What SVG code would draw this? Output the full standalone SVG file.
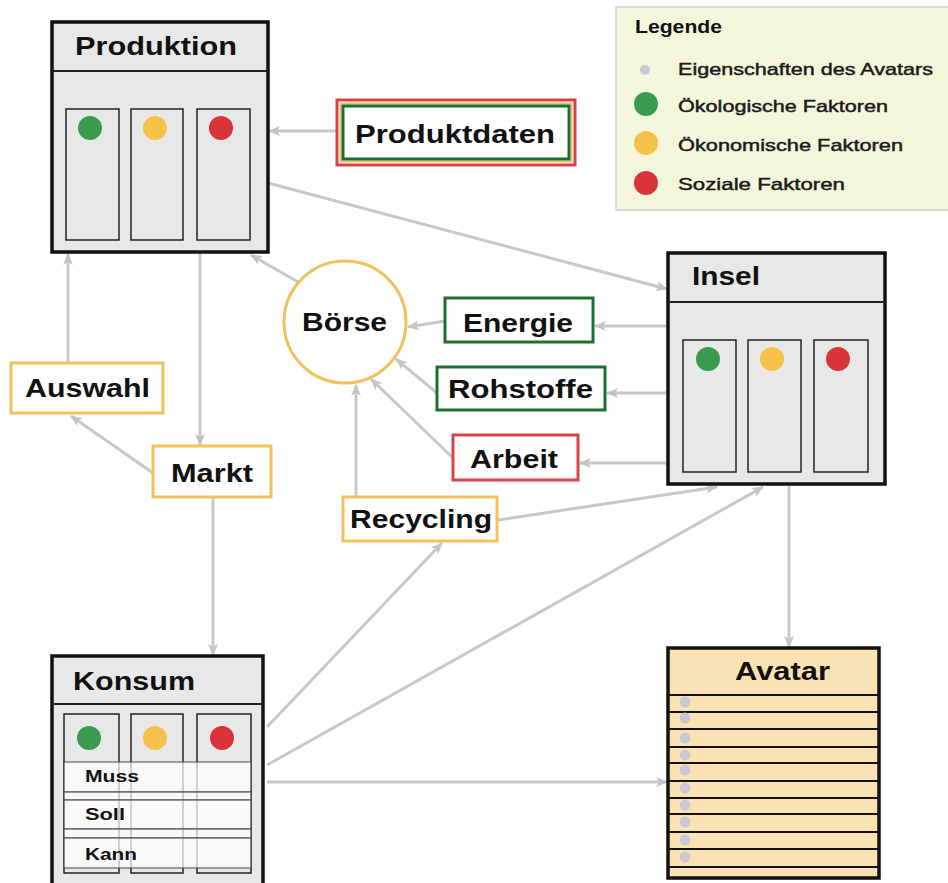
<svg xmlns="http://www.w3.org/2000/svg" width="948" height="883" viewBox="0 0 948 883">
<defs>
<marker id="ah" viewBox="0 0 12 10" refX="11" refY="5" markerWidth="12" markerHeight="10" markerUnits="userSpaceOnUse" orient="auto">
<path d="M0,0 L12,5 L0,10 L3,5 z" fill="#c4c4c4"/>
</marker>
<style>
.lbl{font-family:"Liberation Sans",Arial,sans-serif;font-weight:bold;font-size:26px;fill:#111;}
.sm{font-family:"Liberation Sans",Arial,sans-serif;font-weight:bold;font-size:16px;fill:#111;}
.lg{font-family:"Liberation Sans",Arial,sans-serif;font-size:17px;fill:#1a1a1a;stroke:#1a1a1a;stroke-width:0.45;}
.box{fill:#e8e8e8;stroke:#111;stroke-width:3.5;}
.hdr{stroke:#222;stroke-width:2;}
.col{fill:#e8e8e8;stroke:#222;stroke-width:1.5;}
.row{fill:#fff;fill-opacity:0.72;stroke:#444;stroke-width:1;}
.yel{fill:#fff;stroke:#f0c25e;stroke-width:3;}
.grn{fill:#fff;stroke:#1e6e30;stroke-width:3;}
.red{fill:#fff;stroke:#d8434a;stroke-width:3;}
.cg{fill:#3a9a4e;}
.cy{fill:#f6c14a;}
.cr{fill:#d9343a;}
.cd{fill:#c9c9d4;}
.av{stroke:#111;stroke-width:2;}
.con path,.con line{stroke:#c8c8c8;stroke-width:3;fill:none;marker-end:url(#ah);}
</style>
</defs>
<rect width="948" height="883" fill="#fff"/>

<g class="con" id="connectors">
<line x1="337" y1="131" x2="269" y2="131"/>
<line x1="268" y1="183" x2="667" y2="289"/>
<line x1="298" y1="282" x2="251" y2="255"/>
<line x1="200" y1="252" x2="200" y2="445"/>
<line x1="68" y1="363" x2="68" y2="254"/>
<line x1="153" y1="473" x2="71" y2="416"/>
<line x1="213" y1="497" x2="213" y2="655"/>
<line x1="668" y1="326" x2="595" y2="326"/>
<line x1="445" y1="321" x2="408" y2="327"/>
<line x1="668" y1="393" x2="607" y2="393"/>
<line x1="437" y1="393" x2="396" y2="359"/>
<line x1="668" y1="463" x2="580" y2="463"/>
<line x1="453" y1="458" x2="371" y2="379"/>
<line x1="356" y1="497" x2="356" y2="385"/>
<line x1="498" y1="520" x2="717" y2="487"/>
<line x1="267" y1="727" x2="442" y2="543"/>
<line x1="267" y1="765" x2="763" y2="487"/>
<line x1="267" y1="782" x2="667" y2="782"/>
<line x1="789" y1="486" x2="789" y2="647"/>
</g>

<g id="legende">
<rect x="616" y="7" width="340" height="203" fill="#f4f6dc" stroke="#cfcfcf" stroke-width="1.5"/>
<text class="lbl" x="635" y="33" textLength="87" lengthAdjust="spacingAndGlyphs" style="font-size:18px">Legende</text>
<circle class="cd" cx="645" cy="70" r="5"/>
<text class="lg" x="678" y="75" textLength="255" lengthAdjust="spacingAndGlyphs">Eigenschaften des Avatars</text>
<circle class="cg" cx="646" cy="104" r="12"/>
<text class="lg" x="678" y="112" textLength="210" lengthAdjust="spacingAndGlyphs">Ökologische Faktoren</text>
<circle class="cy" cx="646" cy="143" r="12"/>
<text class="lg" x="678" y="151" textLength="225" lengthAdjust="spacingAndGlyphs">Ökonomische Faktoren</text>
<circle class="cr" cx="646" cy="183" r="12"/>
<text class="lg" x="678" y="190" textLength="167" lengthAdjust="spacingAndGlyphs">Soziale Faktoren</text>
</g>

<g id="produktion">
<rect class="box" x="52" y="22" width="216" height="230"/>
<line class="hdr" x1="52" y1="71" x2="268" y2="71"/>
<text class="lbl" x="75" y="55" textLength="162" lengthAdjust="spacingAndGlyphs">Produktion</text>
<rect class="col" x="66" y="109" width="53" height="131"/>
<rect class="col" x="131" y="109" width="52" height="131"/>
<rect class="col" x="197" y="109" width="53" height="131"/>
<circle class="cg" cx="90" cy="128" r="12"/>
<circle class="cy" cx="155" cy="128" r="12"/>
<circle class="cr" cx="221" cy="128" r="12"/>
</g>

<g id="produktdaten">
<rect x="337" y="100" width="238" height="65" fill="#fff" stroke="#d8434a" stroke-width="3"/>
<rect x="340.5" y="103.5" width="231" height="58" fill="none" stroke="#f0c25e" stroke-width="2"/>
<rect x="343" y="106" width="226" height="53" fill="#fff" stroke="#1e6e30" stroke-width="3"/>
<text class="lbl" x="355" y="143" textLength="200" lengthAdjust="spacingAndGlyphs">Produktdaten</text>
</g>

<g id="insel">
<rect class="box" x="668" y="253" width="217" height="231"/>
<line class="hdr" x1="668" y1="302" x2="885" y2="302"/>
<text class="lbl" x="692" y="285" textLength="68" lengthAdjust="spacingAndGlyphs">Insel</text>
<rect class="col" x="683" y="340" width="53" height="132"/>
<rect class="col" x="748" y="340" width="53" height="132"/>
<rect class="col" x="814" y="340" width="54" height="132"/>
<circle class="cg" cx="708" cy="359" r="12"/>
<circle class="cy" cx="772" cy="359" r="12"/>
<circle class="cr" cx="838" cy="359" r="12"/>
</g>

<g id="boerse">
<circle cx="345" cy="322" r="61" fill="#fff" stroke="#f0c25e" stroke-width="3"/>
<text class="lbl" x="302" y="331" textLength="85" lengthAdjust="spacingAndGlyphs">Börse</text>
</g>

<g id="energie">
<rect class="grn" x="445" y="298" width="148" height="44"/>
<text class="lbl" x="463" y="332" textLength="110" lengthAdjust="spacingAndGlyphs">Energie</text>
</g>

<g id="rohstoffe">
<rect class="grn" x="437" y="367" width="168" height="43"/>
<text class="lbl" x="448" y="398" textLength="145" lengthAdjust="spacingAndGlyphs">Rohstoffe</text>
</g>

<g id="arbeit">
<rect class="red" x="453" y="435" width="125" height="45"/>
<text class="lbl" x="470" y="468" textLength="88" lengthAdjust="spacingAndGlyphs">Arbeit</text>
</g>

<g id="recycling">
<rect class="yel" x="343" y="497" width="154" height="44"/>
<text class="lbl" x="350" y="528" textLength="142" lengthAdjust="spacingAndGlyphs">Recycling</text>
</g>

<g id="auswahl">
<rect class="yel" x="11" y="363" width="152" height="50"/>
<text class="lbl" x="25" y="397" textLength="125" lengthAdjust="spacingAndGlyphs">Auswahl</text>
</g>

<g id="markt">
<rect class="yel" x="153" y="446" width="118" height="51"/>
<text class="lbl" x="171" y="482" textLength="82" lengthAdjust="spacingAndGlyphs">Markt</text>
</g>

<g id="konsum">
<rect class="box" x="52" y="656" width="211" height="240"/>
<line class="hdr" x1="52" y1="704" x2="263" y2="704"/>
<text class="lbl" x="73" y="690" textLength="122" lengthAdjust="spacingAndGlyphs">Konsum</text>
<rect class="col" x="64" y="714" width="55" height="159"/>
<rect class="col" x="131" y="714" width="52" height="159"/>
<rect class="col" x="197" y="714" width="54" height="159"/>
<circle class="cg" cx="89" cy="738" r="12"/>
<circle class="cy" cx="155" cy="738" r="12"/>
<circle class="cr" cx="222" cy="738" r="12"/>
<rect class="row" x="64" y="762" width="187" height="30"/>
<rect class="row" x="64" y="792" width="187" height="8"/>
<rect class="row" x="64" y="800" width="187" height="29"/>
<rect class="row" x="64" y="829" width="187" height="9"/>
<rect class="row" x="64" y="838" width="187" height="30"/>
<text class="sm" x="85" y="782" textLength="54" lengthAdjust="spacingAndGlyphs">Muss</text>
<text class="sm" x="85" y="820" textLength="40" lengthAdjust="spacingAndGlyphs">Soll</text>
<text class="sm" x="85" y="860" textLength="52" lengthAdjust="spacingAndGlyphs">Kann</text>
</g>

<g id="avatar">
<rect x="668" y="648" width="211" height="230" fill="#fbe2b3" stroke="#111" stroke-width="3.5"/>
<line class="av" x1="668" y1="695" x2="879" y2="695"/>
<text class="lbl" x="735" y="680" textLength="95" lengthAdjust="spacingAndGlyphs">Avatar</text>
<line class="av" x1="668" y1="712" x2="879" y2="712"/>
<line class="av" x1="668" y1="729" x2="879" y2="729"/>
<line class="av" x1="668" y1="747" x2="879" y2="747"/>
<line class="av" x1="668" y1="763" x2="879" y2="763"/>
<line class="av" x1="668" y1="781" x2="879" y2="781"/>
<line class="av" x1="668" y1="798" x2="879" y2="798"/>
<line class="av" x1="668" y1="814" x2="879" y2="814"/>
<line class="av" x1="668" y1="832" x2="879" y2="832"/>
<line class="av" x1="668" y1="849" x2="879" y2="849"/>
<line class="av" x1="668" y1="867" x2="879" y2="867"/>
<circle class="cd" cx="685" cy="702" r="5.5"/>
<circle class="cd" cx="685" cy="718" r="5.5"/>
<circle class="cd" cx="685" cy="738" r="5.5"/>
<circle class="cd" cx="685" cy="755" r="5.5"/>
<circle class="cd" cx="685" cy="770" r="5.5"/>
<circle class="cd" cx="685" cy="788" r="5.5"/>
<circle class="cd" cx="685" cy="805" r="5.5"/>
<circle class="cd" cx="685" cy="822" r="5.5"/>
<circle class="cd" cx="685" cy="840" r="5.5"/>
<circle class="cd" cx="685" cy="857" r="5.5"/>
</g>
</svg>
